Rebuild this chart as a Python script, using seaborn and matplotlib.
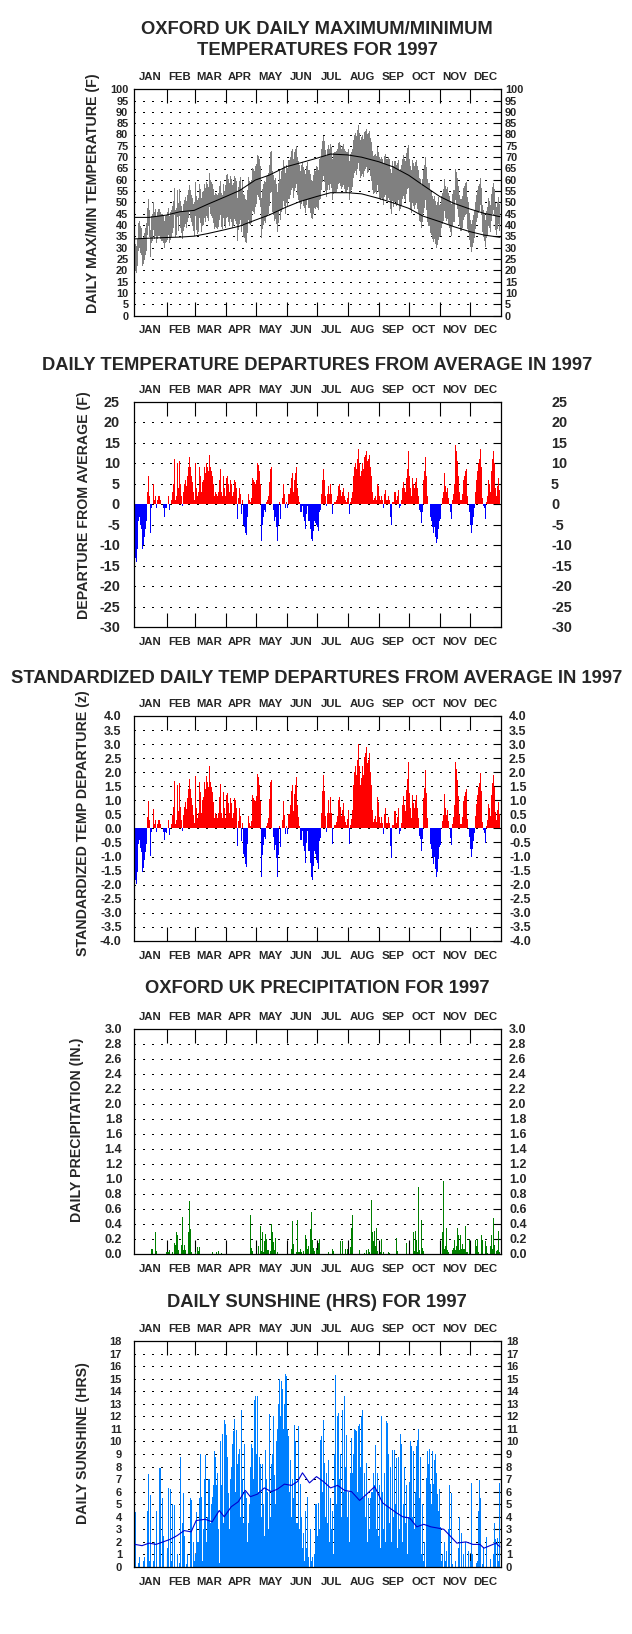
import numpy as np
import matplotlib
matplotlib.use("Agg")
import matplotlib.pyplot as plt
import seaborn as sns
from matplotlib.transforms import blended_transform_factory, offset_copy

MONTHS = ["JAN", "FEB", "MAR", "APR", "MAY", "JUN", "JUL", "AUG", "SEP", "OCT", "NOV", "DEC"]
MONTH_LEN = [31, 28, 31, 30, 31, 30, 31, 31, 30, 31, 30, 31]
MONTH_START = [1, 32, 60, 91, 121, 152, 182, 213, 244, 274, 305, 335]

# daily departures from average (F), read month by month
DEP_JAN = [-13, -14, -11, -4, -3, -5, -6, -11, -10, -8, -6, -4, 3, 7, 2, -7, -1, 0, 5, 1, 2, -1, 1, 2, 2, 1, 0, 0, -1, -3, -1]
DEP_FEB = [-1, 0, 2, -1.5, 0, 1, 3, 5, 11, 1, 2, 10, 4, 10.5, 5, 2, -0.5, 3, 5, 6, 4.5, 7, 9, 11.5, 9, 7, 5.5, 3]
DEP_MAR = [1, 10, 4, 2, 3, 9, 7, 3, 5.5, 6, 9, 7.5, 10, 9, 8, 12, 9, 8, 7, 5, 2, 3, 2.5, 2, 3, 6, 8.5, 3, 2, 7, 4]
DEP_APR = [2, 6.5, 7, 5, 3, 6, 5, 2, 3, 6, 5.5, 4, -3.5, 1.5, 4, 2.5, -2.5, 1, -5, -5.5, -7, -7.5, -3, 2.5, 1, 0.5, 1.5, 6.5, 6, 5.5]
DEP_MAY = [5, 6, 10, 9.5, 8, 5, -9, -5, -3, -1.5, -2, 0.5, 1, 2, 5.5, 8.5, 9, 0, -1.5, -4, -3, -5.5, -9, -5, 0.5, -3.5, 0, 1.5, 5, 2.5, -1]
DEP_JUN = [0.5, -1, 2.5, 2.5, 4, 6.5, 7.5, 3, 6, 7.5, 9, 4, 2, 0.5, -2, -2, -0.5, -3, -4, -6, -2.5, -0.5, -4, -4, -6, -8.5, -9, -6.5, -4, -4.5]
DEP_JUL = [-5, -5.5, -6.5, -2, -1.5, 2.5, 6, 8.5, 6, 2, -0.5, 2.5, 4.5, 2.5, 5, 2.5, -2.5, 0, 0.5, 0.5, 1, 2, 4.5, 5, 3.5, 2, 3, 4, 2, 1, 0.5]
DEP_AUG = [1.5, 3, -2.5, 0.5, 1.5, 3, 7, 9, 10, 8.5, 11, 13.5, 10, 7, 8, 10, 8.5, 11.5, 12, 13, 10.5, 11, 12, 9, 7, 3, 1, 1.5, 2, 1, 5]
DEP_SEP = [4.5, 2, 1, 2, 1, -1, 2.5, 3.5, 1, 1, 2, 1, -3, -5, 0.5, 0.5, 3, 3, 1, 2, 3.5, -1, -0.5, 1, 4, 5.5, 4, 3, 6.5, 8.5]
DEP_OCT = [13, 7, 4, 2, 6.5, 5, 4, 5.5, 6.5, 4, 2, -1.5, -2, -4.5, -2, 6, 8, 11.5, 7, 2, 0, 0, -3, -4, -5.5, -7, -5.5, -8, -9.5, -8.5, -6]
DEP_NOV = [-4, -3.5, 0, 1.5, 3, 7.5, 4.5, 3, 4, 1.5, 0, -2, -3.5, 1, 2.5, 5, 14.5, 13, 10.5, 7, 3, 1, 1, 2.5, 6, 7, 8, 8.5, 2, 0]
DEP_DEC = [-2, -5, -7, -5, -3, -1, 3, 6, 8, 10, 11, 13.5, 9, 1.5, -0.5, -1, -3.5, 0.5, 2, 6, 5, 3, 8, 11, 13, 10, 4, 2, 4.5, 6.5, 3.5]

# normal max / min temperature lines (F)
NORM_DAY = [1, 15, 32, 46, 60, 74, 91, 105, 121, 135, 152, 166, 182, 196, 213, 227, 244, 258, 274, 288, 305, 319, 335, 349, 365]
NORM_MAX = [43.4, 43.4, 44.4, 45.9, 46.5, 49.3, 52.5, 55.2, 59.9, 62.1, 65.8, 67.5, 69.5, 71.4, 71.0, 70.0, 68.0, 65.8, 62.0, 57.7, 52.6, 49.6, 47.1, 45.2, 43.7]
NORM_MIN = [33.9, 34.2, 34.5, 34.7, 35.1, 36.3, 38.0, 39.5, 42.2, 44.5, 48.0, 50.5, 52.6, 54.3, 54.3, 53.8, 51.8, 49.9, 47.4, 44.0, 41.5, 39.3, 37.1, 35.6, 34.6]
# normal daily mean for each half month, typical daily range per month (F)
HALF_MEAN = [38.7, 39.0, 39.6, 40.3, 41.5, 43.6, 46.0, 49.1, 52.1, 54.8, 57.6, 60.0,
             62.0, 62.8, 62.3, 61.1, 59.0, 56.4, 52.8, 49.0, 45.8, 43.4, 41.3, 39.8]
MONTH_RANGE = [12, 12, 15, 19, 18, 17, 18, 17, 18, 19, 14, 12]
# standard deviation of daily temperature per month (F)
MONTH_SD = [7.1, 6.5, 5.4, 5.5, 5.2, 4.9, 4.5, 4.5, 4.8, 5.5, 6.1, 6.8]

# precipitation (inches), days with rain only
PRECIP_DAY = [17, 18, 21, 22,
              32, 33, 34, 35, 38, 40, 41, 42, 43, 44, 47, 48, 49, 50, 51, 54, 55, 56, 57,
              61, 63, 64, 65, 78, 82, 84, 87,
              116, 117, 118,
              124, 126, 127, 128, 129, 130, 131, 132, 133, 134, 136, 137, 138, 139, 140, 141, 143,
              157, 158, 159, 162, 163, 164, 165, 166, 167, 169, 171, 172, 173, 174, 176, 177, 178, 179, 180,
              182, 183, 184, 185, 194, 198, 199, 206, 208, 211,
              213, 216, 217, 218, 225, 230, 232, 234, 235, 237, 238, 239, 240, 241, 242, 243,
              246, 247, 249, 254, 255, 262, 263, 272,
              279, 280, 281, 282, 283, 284, 285, 287, 288, 289,
              308, 309, 310, 311, 312, 313, 314, 318, 319, 320, 321, 322, 323, 324, 325, 326, 327, 328, 329, 330, 331, 332, 333,
              335, 341, 342, 343, 344, 347, 348, 351, 352, 353, 356, 357, 358, 359, 360, 362, 363, 364, 365]
PRECIP_IN = [.07, .07, .30, .04,
             .03, .03, .03, .05, .03, .15, .12, .29, .25, .05, .12, .49, .06, .12, .05, .29, .71, .34, .03,
             .03, .10, .04, .10, .03, .03, .04, .01,
             .52, .08, .04,
             .11, .38, .04, .29, .03, .18, .27, .20, .05, .05, .04, .40, .30, .16, .05, .22, .03,
             .07, .44, .14, .03, .46, .03, .03, .07, .03, .04, .25, .19, .07, .11, .34, .56, .19, .08, .04,
             .08, .05, .15, .20, .03, .07, .04, .18, .18, .07,
             .07, .10, .35, .52, .05, .01, .05, .07, .03, .72, .30, .18, .31, .11, .35, .04,
             .03, .20, .03, .03, .01, .22, .04, .15,
             .30, .04, .31, .19, .03, .90, .05, .45, .08, .04,
             .29, .98, .07, .11, .35, .05, .03, .05, .08, .19, .05, .11, .35, .25, .05, .25, .07, .14, .07, .07, .37, .03, .03,
             .20, .19, .11, .20, .03, .25, .19, .18, .11, .01, .11, .25, .07, .48, .12, .04, .05, .31, .03]

# daily sunshine (hours)
SUN_JAN = [4.4, 0, 0, 0.3, 0.8, 0, 0, 0, 0.5, 0.8, 0, 0, 4.5, 7.4, 0.5, 5.7, 0, 0, 0.5, 2, 0, 4.5, 0, 0, 7.9, 7.9, 0, 5.5, 2.5, 0, 0]
SUN_FEB = [0, 1.5, 6.3, 0, 6.2, 0.5, 5, 0, 4.9, 0, 0, 1, 0, 0.3, 8.8, 0, 3.5, 5.9, 2.5, 0, 0.2, 1, 0, 0, 5.5, 5.3, 0, 2]
SUN_MAR = [0.5, 1, 4.4, 2, 2, 5.5, 9, 5.6, 0.5, 3, 7, 8.9, 2, 4, 7, 7, 3.5, 5, 5.6, 6.5, 9.2, 8.8, 6.5, 7.5, 3, 0.3, 10, 6.5, 10.6, 3.5, 11.7]
SUN_APR = [11.4, 10.5, 8.8, 5.9, 3, 7, 8, 9.8, 10.8, 11.8, 6, 10.9, 8.2, 9, 9.4, 4, 12.5, 7, 3.5, 9.8, 6, 5.5, 2, 3.5, 5, 8, 9.8, 9.5, 7, 13.3]
SUN_MAY = [13.6, 9, 13.6, 6, 8.8, 8.2, 4, 8.2, 5, 2.5, 9.3, 7, 6, 3, 12.2, 4, 8.2, 9, 12, 7.3, 5, 10, 11, 13, 15, 12, 14.8, 14.2, 11, 13, 15.4]
SUN_JUN = [15.2, 11, 10.4, 6, 8.5, 4, 7, 5.5, 11.3, 10, 3.5, 3.5, 11.2, 3, 6.6, 4, 1.5, 2.7, 0.5, 4.5, 1.5, 5.6, 0.8, 0, 3, 0.5, 0.8, 0, 1, 5]
SUN_JUL = [5, 2.5, 5.1, 3, 10.1, 10.4, 6, 11.7, 8.3, 4, 7.5, 3.5, 8.5, 2, 5.5, 3, 4.5, 1, 9, 15.3, 5, 12, 12.3, 7, 9, 4, 12.5, 6, 13.6, 8, 10.5]
SUN_AUG = [4, 6, 2, 7.5, 10.3, 7.5, 9, 11, 10.9, 10.8, 6, 11.2, 11.4, 8, 12, 12.5, 5.5, 7.5, 4, 8.3, 2, 5.5, 3, 5.5, 6, 6, 7.5, 6.5, 9.7, 3, 7.5]
SUN_SEP = [2.5, 6.5, 1.5, 12, 6, 3, 7.5, 2, 11.6, 11.5, 9, 3.5, 8, 2, 9.3, 4, 9.3, 5, 8.7, 1.5, 8.8, 3, 10.6, 9.8, 2, 5, 8, 3.5, 6.5, 1]
SUN_OCT = [4, 6.8, 10, 9.6, 4, 9.2, 3, 6, 9.6, 10.1, 11, 5.5, 8.8, 1, 5, 0.5, 2, 0, 7.1, 9.2, 8.2, 9.4, 6.6, 5, 9.2, 6.6, 8.5, 9, 7.5, 5.8, 4.5]
SUN_NOV = [6.2, 3.2, 0.5, 1, 0, 2, 0.5, 1.3, 0, 3, 6.5, 0, 5.9, 0.2, 0, 0, 0.5, 0, 0, 1.5, 4, 0, 2.7, 0, 1, 0, 2, 0, 0, 1.3]
SUN_DEC = [0, 0.5, 6.7, 1, 0, 0, 0, 0.3, 0.5, 4.5, 6.9, 5.5, 0, 0.2, 1.6, 0, 0, 2.4, 0, 0, 0, 0.6, 0, 0, 1, 3.5, 2.2, 0, 2.3, 0.5, 6.7]

# normal sunshine line (hours)
SUN_NORM_DAY = [1, 8, 15, 22, 29, 36, 43, 50, 57, 62, 71, 78, 85, 90, 97, 104, 111, 116, 123, 130, 137, 143,
                150, 157, 163, 168, 175, 182, 189, 196, 203, 210, 217, 225, 232, 240, 248, 255, 262, 268,
                275, 282, 289, 296, 303, 309, 315, 322, 331, 338, 345, 349, 355, 361, 365]
SUN_NORM = [1.8, 1.7, 1.9, 1.8, 2.0, 2.2, 2.5, 2.9, 2.8, 3.7, 3.8, 3.6, 4.5, 4.0, 4.8, 5.2, 6.1, 5.6, 5.8, 6.3, 6.0, 6.2,
            6.6, 6.5, 6.8, 7.5, 6.7, 7.2, 6.8, 6.3, 6.5, 6.1, 6.0, 5.3, 5.8, 6.4, 5.1, 4.7, 4.3, 4.0,
            3.9, 3.2, 3.4, 3.2, 3.1, 3.0, 2.5, 1.9, 2.0, 1.8, 1.8, 1.5, 1.7, 1.9, 1.6]

dep = np.array(DEP_JAN + DEP_FEB + DEP_MAR + DEP_APR + DEP_MAY + DEP_JUN +
               DEP_JUL + DEP_AUG + DEP_SEP + DEP_OCT + DEP_NOV + DEP_DEC, dtype=float)
sun = np.array(SUN_JAN + SUN_FEB + SUN_MAR + SUN_APR + SUN_MAY + SUN_JUN +
               SUN_JUL + SUN_AUG + SUN_SEP + SUN_OCT + SUN_NOV + SUN_DEC, dtype=float)
days = np.arange(1, 366)
month_idx = np.repeat(np.arange(12), MONTH_LEN)
dom = days - np.array(MONTH_START)[month_idx] + 1
half_idx = 2 * month_idx + (dom > 15)
tmean = np.array(HALF_MEAN)[half_idx] + dep
trange = np.array(MONTH_RANGE, dtype=float)[month_idx]
tmin = tmean - trange / 2
tmax = tmean + trange / 2
zdep = dep / np.array(MONTH_SD)[month_idx]

sns.set_theme(style="white", rc={"axes.edgecolor": "black", "axes.linewidth": 0.9,
                                 "xtick.color": "black", "ytick.color": "black"})
plt.rcParams["font.family"] = ["Liberation Sans", "DejaVu Sans"]

W, H = 632, 1634
fig = plt.figure(figsize=(W / 100, H / 100), dpi=100)
fig.patch.set_facecolor("white")

MFS = 8.2  # month label size


def make_axes(top, bottom):
    ax = fig.add_axes([134 / W, 1 - bottom / H, 367 / W, (bottom - top) / H])
    ax.set_xlim(0, 366)
    return ax


def decorate(ax, ticks, fmt, size, lgap, rgap):
    ax.set_ylim(ticks[0], ticks[-1])
    ax.set_xticks([s + 0.5 for s in MONTH_START[1:]])
    ax.tick_params(axis="x", direction="in", length=10, width=0.8, top=True, bottom=True,
                   labelbottom=False, labeltop=False)
    ax.set_yticks(ticks)
    ax.tick_params(axis="y", direction="in", length=5.8, width=0.8, left=False, right=True,
                   labelleft=False, labelright=False)
    ax.set_xlabel("")
    ax.set_ylabel("")
    for v in ticks[1:-1]:
        ax.axhline(v, color="black", lw=0.72, ls=(0, (1.5, 7.8)), antialiased=False, zorder=0.5)
    cap = size / 72 * 100 * 0.716
    tr = blended_transform_factory(ax.transAxes, ax.transData)
    tl = offset_copy(tr, fig=fig, x=-lgap, y=-cap / 2, units="dots")
    trr = offset_copy(tr, fig=fig, x=rgap, y=-cap / 2, units="dots")
    for v in ticks:
        s = fmt.format(v)
        ax.text(0, v, s, transform=tl, ha="right", va="baseline", fontsize=size, fontweight="bold")
        ax.text(1, v, s, transform=trr, ha="left", va="baseline", fontsize=size, fontweight="bold")
    h = ax.get_position().height * H
    mcap = MFS / 72 * 100 * 0.716
    tm = blended_transform_factory(ax.transData, ax.transAxes)
    for m, lab in enumerate(MONTHS):
        mid = MONTH_START[m] + MONTH_LEN[m] / 2 - 0.5
        ax.text(mid, 1 + (13 - mcap / 2) / h, lab, transform=tm, ha="center", va="baseline",
                fontsize=MFS, fontweight="bold")
        ax.text(mid, -(13.7 + mcap / 2) / h, lab, transform=tm, ha="center", va="baseline",
                fontsize=MFS, fontweight="bold")


def title(y, text):
    fig.text(317 / W, 1 - (y + 6.6) / H, text, ha="center", va="baseline",
             fontsize=13.2, fontweight="bold")


def ylabel(x, y, text):
    fig.text(x / W, 1 - y / H, text, rotation=90, ha="center", va="center",
             fontsize=10.2, fontweight="bold")


# panel 1: max/min temperatures
ax1 = make_axes(89.3, 315.6)
ax1.bar(days, tmax - tmin, bottom=tmin, width=1.0, color="#808080", linewidth=0, antialiased=False, zorder=2)
sns.lineplot(x=NORM_DAY, y=NORM_MAX, ax=ax1, color="black", linewidth=0.75, zorder=3)
sns.lineplot(x=NORM_DAY, y=NORM_MIN, ax=ax1, color="black", linewidth=0.75, zorder=3)
decorate(ax1, list(range(0, 101, 5)), "{:d}", 7.9, 5.7, 4)
title(27.5, "OXFORD UK DAILY MAXIMUM/MINIMUM")
title(48.3, "TEMPERATURES FOR 1997")
ylabel(92.5, 193, "DAILY MAX/MIN TEMPERATURE (F)")

# panel 2: departures
ax2 = make_axes(401.7, 627.2)
ax2.bar(days, np.where(dep > 0, dep, 0), width=1.0, color="#FF0000", linewidth=0, antialiased=False, zorder=2)
ax2.bar(days, np.where(dep < 0, dep, 0), width=1.0, color="#0000FF", linewidth=0, antialiased=False, zorder=2)
decorate(ax2, list(range(-30, 26, 5)), "{:d}", 10.4, 14, 50)
title(363.3, "DAILY TEMPERATURE DEPARTURES FROM AVERAGE IN 1997")
ylabel(84, 505, "DEPARTURE FROM AVERAGE (F)")

# panel 3: standardized departures
ax3 = make_axes(716, 940.8)
ax3.bar(days, np.where(zdep > 0, zdep, 0), width=1.0, color="#FF0000", linewidth=0, antialiased=False, zorder=2)
ax3.bar(days, np.where(zdep < 0, zdep, 0), width=1.0, color="#0000FF", linewidth=0, antialiased=False, zorder=2)
decorate(ax3, [round(v, 1) for v in np.arange(-4, 4.01, 0.5)], "{:.1f}", 9, 12.3, 8)
title(676.7, "STANDARDIZED DAILY TEMP DEPARTURES FROM AVERAGE IN 1997")
ylabel(83, 823.5, "STANDARDIZED TEMP DEPARTURE (z)")

# panel 4: precipitation
ax4 = make_axes(1029, 1254)
ax4.bar(PRECIP_DAY, PRECIP_IN, width=1.0, color="#008000", linewidth=0, antialiased=False, zorder=2)
decorate(ax4, [round(v, 1) for v in np.arange(0, 3.01, 0.2)], "{:.1f}", 9, 11.7, 8)
title(986.7, "OXFORD UK PRECIPITATION FOR 1997")
ylabel(77.5, 1130, "DAILY PRECIPITATION (IN.)")

# panel 5: sunshine
ax5 = make_axes(1341, 1567)
ax5.bar(days, sun, width=1.0, color="#0080FF", linewidth=0, antialiased=False, zorder=2)
sns.lineplot(x=SUN_NORM_DAY, y=SUN_NORM, ax=ax5, color="#0000D0", linewidth=0.8, zorder=3)
decorate(ax5, list(range(0, 19)), "{:d}", 8, 12, 5)
title(1300, "DAILY SUNSHINE (HRS) FOR 1997")
ylabel(83.3, 1443, "DAILY SUNSHINE (HRS)")

fig.savefig("out.png", dpi=100, facecolor="white")
